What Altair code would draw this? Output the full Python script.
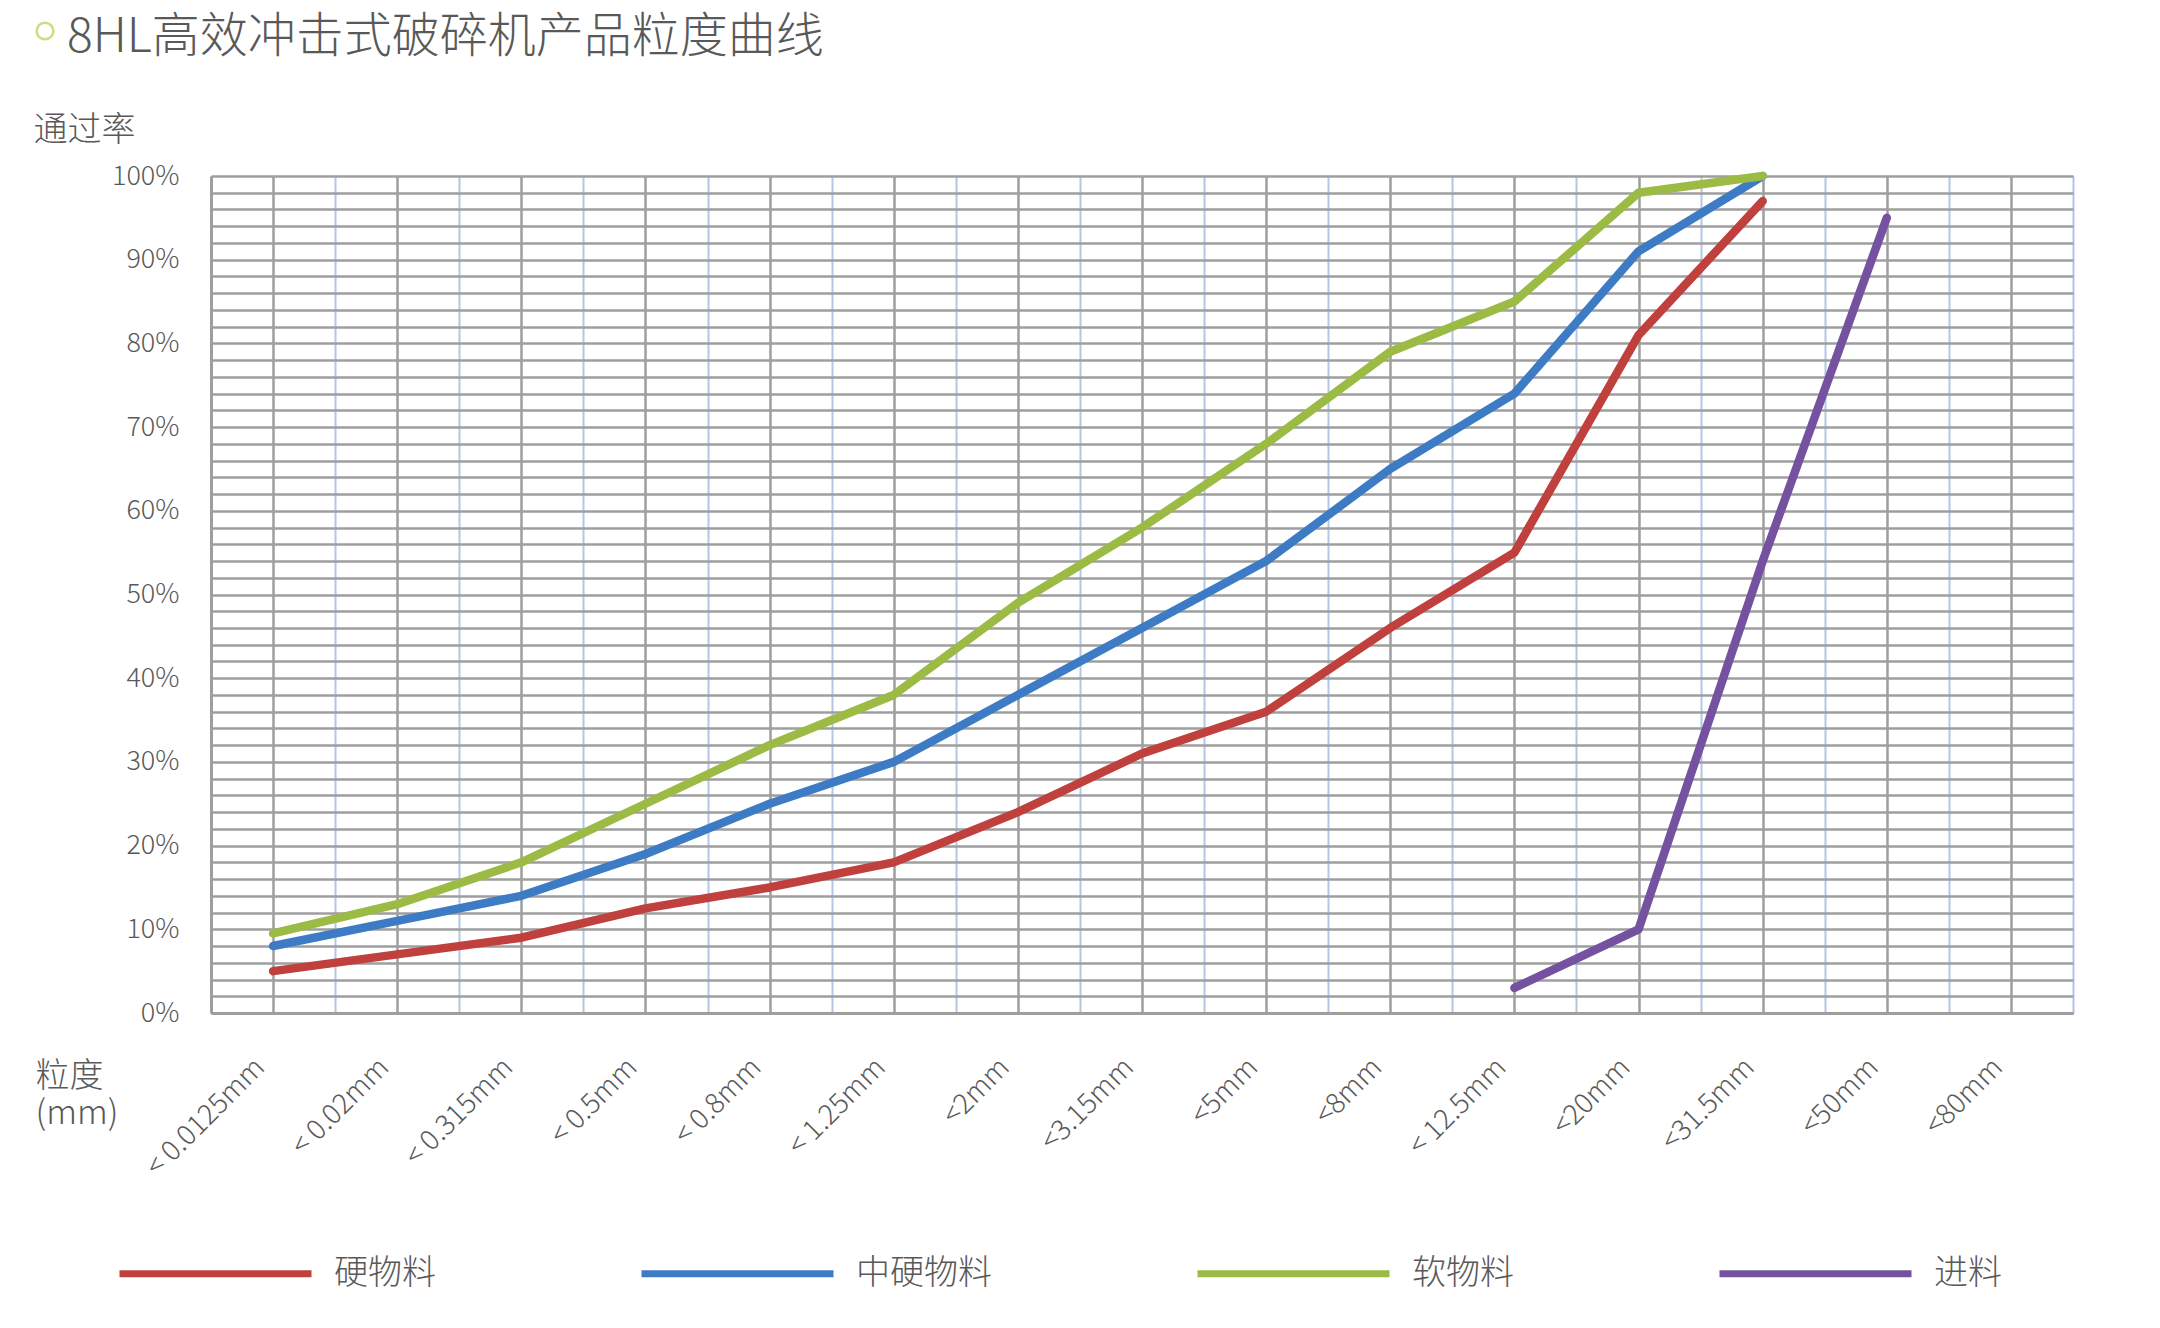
import altair as alt
import pandas as pd

# ---- data ----
sizes = ["< 0.0125mm", "< 0.02mm", "< 0.315mm", "< 0.5mm", "< 0.8mm", "< 1.25mm",
         "<2mm", "<3.15mm", "<5mm", "<8mm", "< 12.5mm", "<20mm", "<31.5mm", "<50mm", "<80mm"]
hard = [5, 7, 9, 12.5, 15, 18, 24, 31, 36, 46, 55, 81, 97]
medium = [8, 11, 14, 19, 25, 30, 38, 46, 54, 65, 74, 91, 100]
soft = [9.5, 13, 18, 25, 32, 38, 49, 58, 68, 79, 85, 98, 100]
feed = [None, None, None, None, None, None, None, None, None, None, 3, 10, 54, 95]
series_names = ["硬物料", "中硬物料", "软物料", "进料"]
series_colors = ["#c0403d", "#3d7cc4", "#9bbb45", "#7552a0"]
title_text = "8HL高效冲击式破碎机产品粒度曲线"

rows = []
for name, vals in zip(series_names, [hard, medium, soft, feed]):
    for i, v in enumerate(vals):
        if v is not None:
            rows.append({"系列": name, "idx": i, "粒度": sizes[i], "通过率": v / 100})
df = pd.DataFrame(rows)

n = len(sizes)
FONT = "Noto Sans CJK SC"
TXT = "#595959"
GRID = "#9e9e9e"
BLUE_GRID = "#b4c6e7"
label_js = "[" + ",".join("'%s'" % s for s in sizes) + "]"

x_scale = alt.Scale(domain=[-0.5, n - 0.5], nice=False, zero=False)
y_scale = alt.Scale(domain=[0, 1], nice=False)

bgrid = alt.Chart(df).mark_point(opacity=0).encode(
    x=alt.X("idx:Q", scale=x_scale,
            axis=alt.Axis(orient="top", values=[i + 0.5 for i in range(n)], labels=False,
                          ticks=False, domain=False, grid=True, gridColor=BLUE_GRID,
                          gridWidth=2, title=None)),
)

lines = alt.Chart(df).mark_line(strokeWidth=8.5, strokeCap="round", strokeJoin="round").encode(
    x=alt.X("idx:Q", scale=x_scale,
            axis=alt.Axis(values=list(range(n)), labelExpr=label_js + "[datum.value]",
                          labelAngle=315, labelAlign="right", labelBaseline="middle",
                          labelPadding=50, labelOffset=-13, labelFontSize=28, labelColor=TXT,
                          labelFont=FONT, labelFontWeight=300, labelOverlap=False,
                          labelBound=False, labelFlush=False, ticks=False, grid=True,
                          gridColor=GRID, gridWidth=2.5, domain=True, domainColor=GRID,
                          domainWidth=3,
                          title=["粒度", "(mm)"], titleX=-176, titleY=46, titleAlign="left",
                          titleBaseline="top", titleFontSize=34, titleFont=FONT,
                          titleFontWeight=300, titleColor=TXT, titleLineHeight=37)),
    y=alt.Y("通过率:Q", scale=y_scale,
            axis=alt.Axis(values=[i / 50 for i in range(51)],
                          labelExpr="round(datum.value*100) % 10 === 0 ? format(datum.value, '.0%') : ''",
                          labelFontSize=27, labelColor=TXT, labelFont=FONT, labelFontWeight=300,
                          labelPadding=32, ticks=False, grid=True, gridColor=GRID, gridWidth=2.5,
                          domain=True, domainColor=GRID, domainWidth=3,
                          title="通过率", titleAngle=0, titleX=-178, titleY=-36,
                          titleAlign="left", titleBaseline="alphabetic", titleFontSize=34,
                          titleFont=FONT, titleFontWeight=300, titleColor=TXT)),
    color=alt.Color("系列:N", scale=alt.Scale(domain=series_names, range=series_colors),
                    legend=alt.Legend(orient="none", legendX=-95, legendY=998,
                                      direction="horizontal", title=None,
                                      symbolType="stroke", symbolSize=36864,
                                      symbolStrokeWidth=7, labelFontSize=34, labelFont=FONT,
                                      labelFontWeight=300, labelColor=TXT, labelOffset=19,
                                      columnPadding=191, labelLimit=400)),
)

bullet = alt.Chart(pd.DataFrame({"a": [0]})).mark_point(
    shape="circle", filled=False, size=280, strokeWidth=2.5, color="#b8d04a"
).encode(x=alt.value(-166), y=alt.value(-145))

title = alt.Chart(pd.DataFrame({"t": [title_text]})).mark_text(
    align="left", baseline="alphabetic", fontSize=48, font=FONT, fontWeight=300, color=TXT
).encode(text="t:N", x=alt.value(-144), y=alt.value(-124))

chart = alt.layer(bgrid, lines, bullet, title).resolve_axis(x="independent").properties(
    width=1862, height=837,
    padding={"left": 203, "top": 168, "right": 79, "bottom": 290},
    autosize=alt.AutoSizeParams(type="none"),
).configure_view(stroke="transparent").configure(background="white")

chart.save("out.html", embed_options={"renderer": "svg", "actions": False})
